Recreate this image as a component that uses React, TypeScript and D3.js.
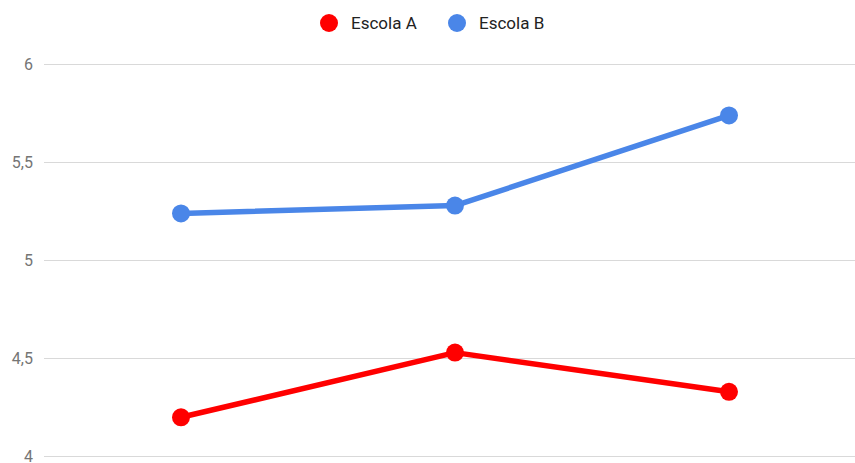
import React, { useRef, useEffect } from 'react';
import { select, scaleLinear, scalePoint, line } from 'd3';

const categories = ['1', '2', '3'];
const escolaA = [4.2, 4.53, 4.33];
const escolaB = [5.24, 5.28, 5.74];
const yTicks = [4, 4.5, 5, 5.5, 6];

const series = [
  { name: 'Escola A', values: escolaA, color: '#ff0000' },
  { name: 'Escola B', values: escolaB, color: '#4a86e8' },
];

const W = 855;
const H = 463;

const App = () => {
  const svgRef = useRef(null);

  useEffect(() => {
    const svg = select(svgRef.current);
    svg.selectAll('*').remove();

    const xScale = scalePoint().domain(categories).range([44, 866]).padding(0.5);
    const yScale = scaleLinear().domain([4, 6]).range([456.5, 64.5]);

    // gridlines + tick labels
    const grid = svg.append('g');
    grid
      .selectAll('line')
      .data(yTicks)
      .join('line')
      .attr('x1', 44)
      .attr('x2', 866)
      .attr('y1', (d) => yScale(d))
      .attr('y2', (d) => yScale(d))
      .attr('stroke', '#d9d9d9')
      .attr('stroke-width', 1.2);
    grid
      .selectAll('text')
      .data(yTicks)
      .join('text')
      .attr('x', 33)
      .attr('y', (d) => yScale(d))
      .attr('dy', '0.35em')
      .attr('text-anchor', 'end')
      .attr('fill', '#757575')
      .style('font-family', 'Roboto, sans-serif')
      .style('font-size', '16px')
      .text((d) => String(d).replace('.', ','));

    const lineGen = line<number>()
      .x((d, i) => xScale(categories[i]) as number)
      .y((d) => yScale(d));

    series.forEach((s) => {
      const g = svg.append('g');
      g.append('path')
        .attr('d', lineGen(s.values))
        .attr('fill', 'none')
        .attr('stroke', s.color)
        .attr('stroke-width', 5.5)
        .attr('stroke-linejoin', 'round');
      g.selectAll('circle')
        .data(s.values)
        .join('circle')
        .attr('cx', (d, i) => xScale(categories[i]) as number)
        .attr('cy', (d) => yScale(d))
        .attr('r', 9)
        .attr('fill', s.color);
    });

    // legend
    const legendX = [329, 457];
    const legend = svg
      .append('g')
      .selectAll('g')
      .data(series)
      .join('g')
      .attr('transform', (d, i) => `translate(${legendX[i]},23)`);
    legend.append('circle').attr('r', 9).attr('fill', (d) => d.color);
    legend
      .append('text')
      .attr('x', 22)
      .attr('dy', '0.35em')
      .attr('fill', '#222222')
      .style('font-family', 'Roboto, sans-serif')
      .style('font-size', '17px')
      .text((d) => d.name);
  }, []);

  return (
    <svg
      ref={svgRef}
      width={W}
      height={H}
      style={{ position: 'absolute', left: 0, top: 0, background: '#fff' }}
    />
  );
};

export default App;
